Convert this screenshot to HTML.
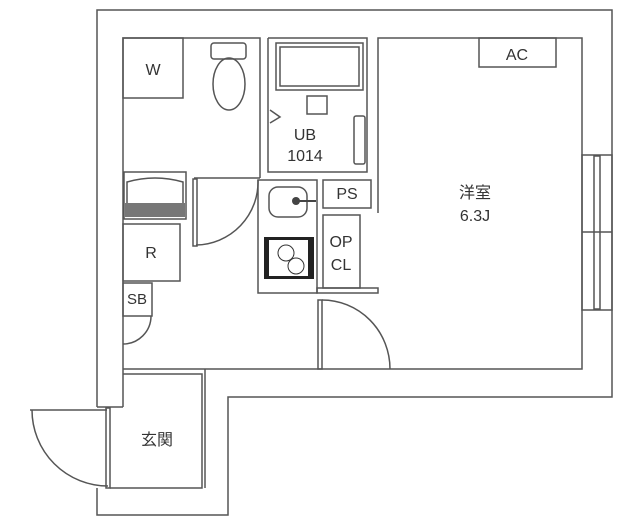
<!DOCTYPE html>
<html><head><meta charset="utf-8"><style>
html,body{margin:0;padding:0;background:#fff;}
svg{display:block}
text{font-family:"Liberation Sans","Noto Sans CJK JP",sans-serif;fill:#333;text-anchor:middle;}
</style></head><body>
<svg width="640" height="526" viewBox="0 0 640 526" xmlns="http://www.w3.org/2000/svg">
<g fill="none" stroke="#555" stroke-width="1.5">
<polyline points="97,407 97,10 612,10 612,397 228,397 228,515 97,515 97,488"/>
<line x1="97" y1="407" x2="123" y2="407"/>
<polyline points="123,407 123,38 260,38 260,178"/>
<polyline points="268,38 367,38 367,172 268,172 268,38"/>
<polyline points="378,213 378,38 582,38 582,369 123,369"/>
<polyline points="123,374 202,374 202,488 110,488"/>
<line x1="205" y1="369" x2="205" y2="488"/>
<line x1="30" y1="410" x2="107" y2="410"/>
<rect x="106" y="408" width="4" height="80"/>
<path d="M32,410 A76,76 0 0 0 108,486"/>
<rect x="582" y="155" width="30" height="155"/>
<line x1="582" y1="232" x2="612" y2="232"/>
<rect x="594" y="156" width="6" height="153"/>
<rect x="123" y="38" width="60" height="60"/>
<rect x="211" y="43" width="35" height="16" rx="3"/>
<ellipse cx="229" cy="84" rx="16" ry="26"/>
<rect x="276" y="43" width="87" height="47"/>
<rect x="280" y="47" width="79" height="39"/>
<rect x="307" y="96" width="20" height="18"/>
<polyline points="270,110 280,117 270,123"/>
<rect x="354" y="116" width="11" height="48" rx="2"/>
<rect x="124" y="172" width="62" height="47"/>
<path d="M127,216 L127,182 Q155,174 183,182 L183,216 Z"/>
<line x1="194" y1="178" x2="260" y2="178"/>
<rect x="193" y="179" width="4" height="67"/>
<path d="M196,245 A63,63 0 0 0 258,180"/>
<rect x="123" y="224" width="57" height="57"/>
<rect x="123" y="283" width="29" height="33"/>
<path d="M123,344 A28,28 0 0 0 151,316"/>
<rect x="258" y="180" width="59" height="113"/>
<rect x="269" y="187" width="38" height="30" rx="9"/>
<rect x="323" y="180" width="48" height="28"/>
<rect x="323" y="215" width="37" height="73"/>
<rect x="317" y="288" width="61" height="5"/>
<rect x="318" y="300" width="4" height="69"/>
<path d="M322,300 A68,69 0 0 1 390,369"/>
<rect x="479" y="38" width="77" height="29"/>
</g>
<rect x="264" y="237" width="50" height="42" fill="#222"/>
<rect x="269" y="240" width="39" height="36" fill="#fff"/>
<circle cx="286" cy="253" r="8" fill="none" stroke="#333"/>
<circle cx="296" cy="266" r="8" fill="none" stroke="#333"/>
<rect x="125" y="203" width="60" height="14" fill="#777"/>
<circle cx="296" cy="201" r="4" fill="#444"/>
<line x1="296" y1="201" x2="316" y2="201" stroke="#444" stroke-width="2"/>
<g font-size="16">
<text x="153" y="75">W</text>
<text x="305" y="140">UB</text>
<text x="305" y="161">1014</text>
<text x="347" y="199">PS</text>
<text x="341" y="247">OP</text>
<text x="341" y="270">CL</text>
<text x="151" y="258">R</text>
<text x="137" y="304" font-size="15">SB</text>
<text x="517" y="60">AC</text>
<text x="475" y="198">洋室</text>
<text x="475" y="221">6.3J</text>
<text x="157" y="445">玄関</text>
</g>
</svg>
</body></html>
